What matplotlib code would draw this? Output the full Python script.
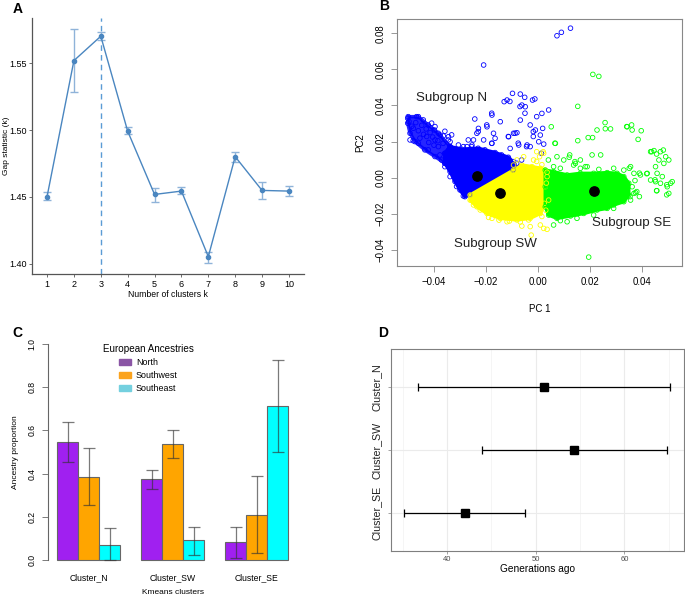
import matplotlib
matplotlib.use("Agg")
import matplotlib.pyplot as plt
import matplotlib.patches as mpatches
import numpy as np

plt.rcParams['font.family'] = ['Liberation Sans', 'DejaVu Sans']

# ---------------- data ----------------
# A: gap statistic
k_values = [1, 2, 3, 4, 5, 6, 7, 8, 9, 10]
gap = [1.4502, 1.5518, 1.5700, 1.4991, 1.4519, 1.4544, 1.4055, 1.4801, 1.4549, 1.4544]
gap_lo = [1.4474, 1.5283, 1.5670, 1.4969, 1.4464, 1.4522, 1.4007, 1.4761, 1.4487, 1.4507]
gap_hi = [1.4534, 1.5755, 1.5735, 1.5021, 1.4564, 1.4572, 1.4092, 1.4836, 1.4609, 1.4579]
best_k = 3

# B: PCA, dense cores as outlines + sparse points
blue_core = [(-0.0338, 0.0172), (-0.0294, 0.0158), (-0.0230, 0.0163), (-0.0165, 0.0139),
             (-0.0114, 0.0113), (-0.0091, 0.0071), (-0.0095, 0.0043), (-0.0262, -0.0095),
             (-0.0281, -0.0105), (-0.0300, -0.0068), (-0.0319, -0.0021), (-0.0338, 0.0034),
             (-0.0358, 0.0080), (-0.0358, 0.0135)]
blue_arm = [(-0.0499, 0.0338), (-0.0460, 0.0338), (-0.0422, 0.0292), (-0.0383, 0.0246),
            (-0.0338, 0.0172), (-0.0358, 0.0135), (-0.0358, 0.0080), (-0.0396, 0.0117),
            (-0.0435, 0.0154), (-0.0473, 0.0200), (-0.0492, 0.0246), (-0.0501, 0.0302)]
yellow_core = [(-0.0261, -0.0096), (-0.0094, 0.0042), (-0.0062, 0.0070), (-0.0023, 0.0061),
               (0.0009, 0.0052), (0.0028, 0.0042), (0.0028, -0.0050), (0.0024, -0.0142),
               (0.0009, -0.0198), (-0.0030, -0.0225), (-0.0081, -0.0234), (-0.0145, -0.0225),
               (-0.0196, -0.0198), (-0.0235, -0.0161), (-0.0261, -0.0124)]
green_core = [(0.0028, 0.0042), (0.0060, 0.0033), (0.0112, 0.0015), (0.0163, 0.0024),
              (0.0214, 0.0024), (0.0266, 0.0028), (0.0304, 0.0024), (0.0330, 0.0006),
              (0.0349, -0.0031), (0.0349, -0.0096), (0.0330, -0.0133), (0.0291, -0.0151),
              (0.0266, -0.0170), (0.0227, -0.0179), (0.0176, -0.0198), (0.0125, -0.0212),
              (0.0073, -0.0225), (0.0041, -0.0207), (0.0028, -0.0161), (0.0028, -0.0050)]

blue_pts = [(-0.0209, 0.0624), (0.0073, 0.0786), (0.0090, 0.0805), (0.0125, 0.0828),
            (-0.0130, 0.0421), (-0.0119, 0.0430), (-0.0098, 0.0467), (-0.0068, 0.0463),
            (-0.0051, 0.0445), (-0.0062, 0.0402), (-0.0049, 0.0393), (-0.0021, 0.0430),
            (-0.0012, 0.0436), (0.0041, 0.0375), (0.0015, 0.0356), (-0.0145, 0.0310),
            (-0.0177, 0.0347), (-0.0243, 0.0325), (-0.0196, 0.0282), (-0.0229, 0.0273),
            (-0.0235, 0.0246), (-0.0171, 0.0246), (-0.0177, 0.0190), (-0.0209, 0.0209),
            (-0.0113, 0.0227), (-0.0094, 0.0246), (-0.0081, 0.0249), (-0.0068, 0.0319),
            (-0.0030, 0.0292), (-0.0010, 0.0264), (0.0009, 0.0236), (0.0018, 0.0273),
            (-0.0042, 0.0181), (-0.0030, 0.0172), (-0.0074, 0.0181), (-0.0107, 0.0162),
            (0.0003, 0.0199), (0.0022, 0.0186), (0.0013, 0.0135), (-0.0273, 0.0172),
            (-0.0306, 0.0181), (-0.0338, 0.0199), (-0.0344, 0.0227), (-0.0376, 0.0236),
            (-0.0398, 0.0264), (-0.0248, 0.0209), (-0.0254, 0.0181), (-0.0094, 0.0089),
            (-0.0223, 0.0150), (-0.0204, 0.0154), (-0.0178, 0.0135), (-0.0140, 0.0126),
            (-0.0108, 0.0098), (-0.0082, 0.0080), (-0.0063, 0.0098), (-0.0255, 0.0172),
            (-0.0287, 0.0172), (-0.0319, 0.0154), (-0.0428, 0.0228), (-0.0396, 0.0209),
            (-0.0422, 0.0154), (-0.0377, 0.0126), (-0.0371, 0.0098), (-0.0358, 0.0061),
            (-0.0338, 0.0006), (-0.0313, -0.0049), (-0.0287, -0.0101), (-0.0396, 0.0283),
            (-0.0364, 0.0231), (-0.0332, 0.0237), (-0.0358, 0.0257), (-0.0345, 0.0209),
            (-0.0479, 0.0274), (-0.0492, 0.0209), (-0.0460, 0.0191), (-0.0383, 0.0172),
            (-0.0441, 0.0320), (-0.0409, 0.0302), (-0.0178, 0.0357), (-0.0197, 0.0292),
            (-0.0230, 0.0255), (-0.0268, 0.0209), (-0.0178, 0.0191), (-0.0165, 0.0218),
            (-0.0114, 0.0228), (-0.0088, 0.0246), (-0.0076, 0.0191), (-0.0044, 0.0172),
            (-0.0018, 0.0255), (-0.0018, 0.0228), (-0.0108, 0.0422), (-0.0069, 0.0394),
            (-0.0050, 0.0357), (-0.0005, 0.0338), (-0.0501, 0.0329), (-0.0496, 0.0311),
            (-0.0467, 0.0338), (-0.0480, 0.0205), (-0.0454, 0.0219), (-0.0447, 0.0290),
            (-0.0430, 0.0270), (-0.0415, 0.0250), (-0.0460, 0.0260), (-0.0440, 0.0240),
            (-0.0405, 0.0225), (-0.0385, 0.0205), (-0.0420, 0.0195), (-0.0400, 0.0180),
            (-0.0365, 0.0190), (-0.0470, 0.0305), (-0.0485, 0.0285)]
yellow_pts = [(-0.0030, -0.0271), (-0.0062, -0.0268), (-0.0026, -0.0318), (0.0022, -0.0281),
              (0.0035, -0.0286), (0.0009, -0.0262), (-0.0177, -0.0225), (0.0022, 0.0135),
              (0.0006, 0.0116), (-0.0017, 0.0098), (-0.0055, 0.0116), (-0.0081, 0.0098),
              (-0.0094, 0.0070), (0.0035, 0.0006), (0.0041, -0.0124), (-0.0248, -0.0151),
              (-0.0222, -0.0179), (-0.0190, -0.0220), (-0.0119, -0.0244), (-0.0036, -0.0234),
              (-0.0042, 0.0050), (-0.0005, 0.0090), (0.0015, 0.0072), (-0.0110, -0.0240),
              (-0.0150, -0.0235), (-0.0068, -0.0245), (0.0015, -0.0215), (0.0030, -0.0180),
              (0.0032, -0.0030), (0.0035, 0.0030), (-0.0005, 0.0144), (0.0020, 0.0144)]
green_pts = [(0.0211, 0.0572), (0.0234, 0.0561), (0.0153, 0.0395), (0.0227, 0.0264),
             (0.0193, 0.0222), (0.0259, 0.0271), (0.0279, 0.0270), (0.0051, 0.0282),
             (0.0067, 0.0190), (0.0343, 0.0282), (0.0360, 0.0292), (0.0362, 0.0264),
             (0.0397, 0.0260), (0.0385, 0.0212), (0.0195, -0.0440), (0.0122, 0.0126),
             (0.0208, 0.0126), (0.0153, 0.0205), (0.0144, 0.0079), (0.0182, 0.0061),
             (0.0433, 0.0144), (0.0446, 0.0150), (0.0456, 0.0131), (0.0471, 0.0144),
             (0.0482, 0.0153), (0.0491, 0.0116), (0.0465, 0.0098), (0.0452, 0.0061),
             (0.0484, 0.0079), (0.0503, 0.0098), (0.0458, 0.0024), (0.0478, 0.0006),
             (0.0433, -0.0013), (0.0452, -0.0022), (0.0471, -0.0031), (0.0510, -0.0031),
             (0.0516, -0.0022), (0.0497, -0.0050), (0.0503, -0.0087), (0.0456, -0.0072),
             (0.0420, 0.0024), (0.0394, 0.0015), (0.0356, 0.0061), (0.0369, 0.0024),
             (0.0375, -0.0083), (0.0390, -0.0105), (0.0060, 0.0061), (0.0086, 0.0052),
             (0.0137, 0.0070), (0.0163, 0.0052), (0.0189, 0.0061), (0.0234, 0.0046),
             (0.0291, 0.0052), (0.0330, 0.0042), (0.0362, -0.0050), (0.0369, -0.0087),
             (0.0356, -0.0124), (0.0214, -0.0207), (0.0150, -0.0225), (0.0112, -0.0244),
             (0.0086, -0.0238), (0.0060, -0.0262), (0.0291, -0.0170), (0.0073, 0.0116),
             (0.0099, 0.0098), (0.0163, 0.0098), (0.0258, 0.0305), (0.0210, 0.0222),
             (0.0065, 0.0191), (0.0341, 0.0283), (0.0241, 0.0126), (0.0120, 0.0113),
             (0.0142, 0.0089), (0.0040, 0.0098), (0.0437, 0.0144), (0.0351, 0.0052),
             (0.0390, 0.0025), (0.0418, 0.0022), (0.0373, -0.0016), (0.0380, -0.0077),
             (0.0354, -0.0105), (0.0457, -0.0072), (0.0495, -0.0095), (0.0495, -0.0039),
             (0.0450, -0.0012)]
centroids = [(-0.0233, 0.0010), (-0.0146, -0.0086), (0.0217, -0.0073)]
subgroup_labels = ['Subgroup N', 'Subgroup SW', 'Subgroup SE']
subgroup_pos = [(-0.0331, 0.0442), (-0.0165, -0.0367), (0.0362, -0.0249)]

# C: ancestry proportions
clusters = ['Cluster_N', 'Cluster_SW', 'Cluster_SE']
ancestries = ['North', 'Southwest', 'Southeast']
prop_north = [0.546, 0.374, 0.082]
prop_sw = [0.386, 0.538, 0.208]
prop_se = [0.069, 0.092, 0.713]
lo_north = [0.455, 0.328, 0.008]
hi_north = [0.637, 0.418, 0.151]
lo_sw = [0.255, 0.474, 0.031]
hi_sw = [0.517, 0.603, 0.387]
lo_se = [0.000, 0.023, 0.500]
hi_se = [0.148, 0.155, 0.927]

# D: admixture dates
adm_clusters = ['Cluster_SE', 'Cluster_SW', 'Cluster_N']
gen_mean = [42.0, 54.3, 50.9]
gen_lo = [35.2, 43.9, 36.7]
gen_hi = [48.8, 64.8, 65.1]

# ---------------- figure ----------------
fig = plt.figure(figsize=(6.85, 6.0), dpi=100)

# ---- A
axa = fig.add_axes([0.0467, 0.5433, 0.3971, 0.4267])
col_a = '#4a86c0'
axa.axvline(best_k, color='#5b9bd5', ls=(0, (4, 3)), lw=1.0, zorder=1)
yerr = [np.array(gap) - np.array(gap_lo), np.array(gap_hi) - np.array(gap)]
axa.errorbar(k_values, gap, yerr=yerr, fmt='none', ecolor='#8fb3d9', elinewidth=1.0,
             capsize=2.8, capthick=1.0, zorder=2)
axa.plot(k_values, gap, color=col_a, lw=1.0, marker='o', ms=3, zorder=3)
axa.set_xlim(0.44, 10.56)
axa.set_ylim(1.3925, 1.5836)
axa.set_xticks(k_values)
axa.set_yticks([1.40, 1.45, 1.50, 1.55])
axa.set_yticklabels(['1.40', '1.45', '1.50', '1.55'])
for s in ['top', 'right']:
    axa.spines[s].set_visible(False)
for s in ['left', 'bottom']:
    axa.spines[s].set_color('#555555')
    axa.spines[s].set_linewidth(0.9)
axa.tick_params(labelsize=6.5, length=2.5, width=0.6, color='#555555', pad=1.5)
axa.set_xlabel('Number of clusters k', fontsize=6.2, labelpad=1)
axa.set_ylabel('Gap statistic (k)', fontsize=6.0)
axa.yaxis.set_label_coords(-0.08, 0.5)

# ---- B
axb = fig.add_axes([0.5796, 0.5567, 0.4161, 0.4117])
groups = [('#0000ff', [blue_arm, blue_core], blue_pts),
          ('#ffff00', [yellow_core], yellow_pts),
          ('#00ff00', [green_core], green_pts)]
for col, polys, pts in groups:
    for i, poly in enumerate(polys):
        px = [p[0] for p in poly]
        py = [p[1] for p in poly]
        a = 0.85 if (col == '#0000ff' and i == 0) else 1.0
        axb.fill(px, py, color=col, lw=2.5, ec=col, alpha=a, zorder=1)
        axb.scatter(px, py, s=11, facecolors='none', edgecolors=col, lw=0.6, zorder=2)
for col, polys, pts in groups:
    axb.scatter([p[0] for p in pts], [p[1] for p in pts], s=11, facecolors='none',
                edgecolors=col, lw=0.6, zorder=3)
axb.scatter([c[0] for c in centroids], [c[1] for c in centroids], s=45, color='black', zorder=4)
for lab, pos in zip(subgroup_labels, subgroup_pos):
    axb.text(pos[0], pos[1], lab, fontsize=9.6, ha='center', va='center', color='#222222')
axb.set_xlim(-0.0542, 0.0554)
axb.set_ylim(-0.0489, 0.0879)
axb.set_xticks([-0.04, -0.02, 0.0, 0.02, 0.04])
axb.set_xticklabels(['\u22120.04', '\u22120.02', '0.00', '0.02', '0.04'])
axb.set_yticks([-0.04, -0.02, 0.0, 0.02, 0.04, 0.06, 0.08])
axb.set_yticklabels(['\u22120.04', '\u22120.02', '0.00', '0.02', '0.04', '0.06', '0.08'],
                    rotation=90, va='center')
for s in axb.spines.values():
    s.set_color('#888888')
    s.set_linewidth(0.8)
axb.tick_params(labelsize=6.9, length=4, width=0.6, color='#888888', pad=4)
axb.set_xlabel('PC 1', fontsize=7, labelpad=12)
axb.set_ylabel('PC2', fontsize=7, labelpad=8)

# ---- C
axc = fig.add_axes([0.0698, 0.0523, 0.3642, 0.3887])
bar_cols = ['#a020f0', '#ffa500', '#00ffff']
leg_cols = ['#8a55a5', '#fba31e', '#74d0df']
props = [prop_north, prop_sw, prop_se]
los = [lo_north, lo_sw, lo_se]
his = [hi_north, hi_sw, hi_se]
for j in range(3):
    xs = [1.5 + 4 * g + j for g in range(3)]
    axc.bar(xs, props[j], width=1.0, color=bar_cols[j], edgecolor='#666666', lw=0.8)
    err = [np.array(props[j]) - np.array(los[j]), np.array(his[j]) - np.array(props[j])]
    axc.errorbar(xs, props[j], yerr=err, fmt='none', ecolor='#333333', alpha=0.65,
                 elinewidth=0.9, capsize=4.3, capthick=0.9)
axc.set_xlim(0.56, 12.44)
axc.set_ylim(-0.04, 1.04)
axc.set_xticks([2.5, 6.5, 10.5])
axc.set_xticklabels(clusters)
axc.tick_params(axis='x', length=0, labelsize=6.2, pad=3)
axc.set_yticks([0.0, 0.2, 0.4, 0.6, 0.8, 1.0])
axc.set_yticklabels(['0.0', '0.2', '0.4', '0.6', '0.8', '1.0'], rotation=90, va='center')
axc.tick_params(axis='y', length=4, width=0.6, color='#666666', labelsize=6.2, pad=4)
for s in ['top', 'right', 'bottom']:
    axc.spines[s].set_visible(False)
axc.spines['left'].set_bounds(0, 1)
axc.spines['left'].set_color('#666666')
axc.spines['left'].set_linewidth(0.8)
axc.set_xlabel('Kmeans clusters', fontsize=6.0)
axc.xaxis.set_label_coords(0.5, -0.088)
axc.set_ylabel('Ancestry proportion', fontsize=6.0, labelpad=6)
handles = [mpatches.Patch(color=c, label=a) for c, a in zip(leg_cols, ancestries)]
leg = axc.legend(handles=handles, title='European Ancestries', loc='upper left',
                 bbox_to_anchor=(0.196, 0.989), frameon=False, fontsize=6.4,
                 title_fontsize=7.1, handlelength=1.3, handleheight=0.75,
                 handletextpad=0.6, labelspacing=0.45, borderpad=0.2)

# ---- D
axd = fig.add_axes([0.5708, 0.0817, 0.4277, 0.3367])
ypos = [1, 2, 3]
axd.set_xlim(33.7, 66.7)
axd.set_ylim(0.4, 3.6)
axd.set_xticks([40, 50, 60])
axd.set_xticks([35, 45, 55, 65], minor=True)
axd.set_yticks(ypos)
axd.set_yticklabels(adm_clusters, rotation=90, va='center')
axd.grid(True, which='major', color='#ebebeb', lw=0.8)
axd.grid(True, which='minor', axis='x', color='#f2f2f2', lw=0.5)
axd.set_axisbelow(True)
err_d = [np.array(gen_mean) - np.array(gen_lo), np.array(gen_hi) - np.array(gen_mean)]
axd.errorbar(gen_mean, ypos, xerr=err_d, fmt='s', color='black', ms=5.3, elinewidth=0.9,
             capsize=2.6, capthick=0.9, zorder=3)
for s in axd.spines.values():
    s.set_color('#7f7f7f')
    s.set_linewidth(0.8)
axd.tick_params(axis='x', which='major', labelsize=5.5, labelcolor='#4d4d4d', length=2,
                width=0.5, color='#7f7f7f', pad=1.5)
axd.tick_params(axis='x', which='minor', length=0)
axd.tick_params(axis='y', labelsize=7.7, labelcolor='#222222', length=2, width=0.5,
                color='#7f7f7f', pad=5)
axd.set_xlabel('Generations ago', fontsize=7.3, labelpad=1)

# panel letters
for lab, x, y in [('A', 0.026, 0.985), ('B', 0.5606, 0.99), ('C', 0.026, 0.4458),
                  ('D', 0.5599, 0.4458)]:
    fig.text(x, y, lab, fontsize=10, fontweight='bold', ha='center', va='center')

fig.savefig('out.png', dpi=100)
